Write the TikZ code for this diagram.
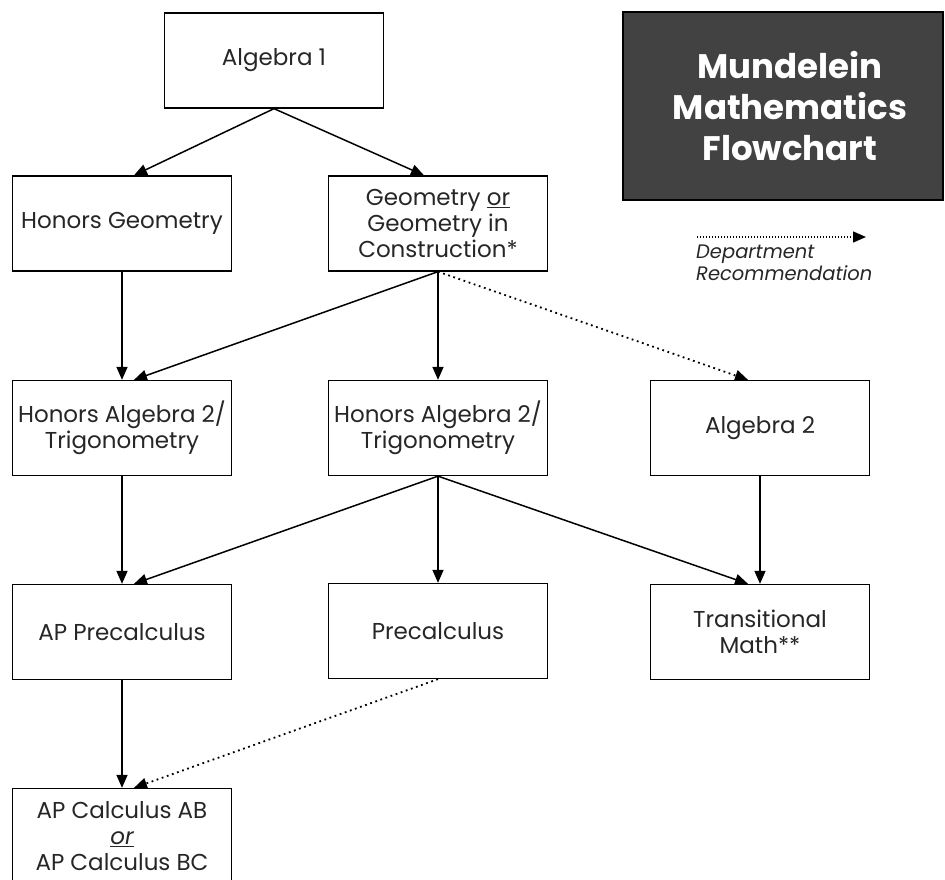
\documentclass[tikz,border=0pt]{standalone}
\usepackage{fontspec}
\setmainfont{Poppins}
\usetikzlibrary{arrows.meta,calc,positioning}
\definecolor{coursetext}{HTML}{262626}
\definecolor{titlefill}{HTML}{424242}

\begin{document}
\begin{tikzpicture}[x=1pt,y=-1pt,
  course/.style={rectangle,draw,line width=1.3pt,minimum width=219pt,minimum height=95pt,
    align=center,text=coursetext,inner sep=2pt,font=\fontsize{23}{26}\selectfont},
  arr/.style={line width=1.5pt,-{Triangle[length=13pt,width=11pt]}},
  rec/.style={arr,line width=1.8pt,dash pattern=on 1.8pt off 3.6pt}]
\useasboundingbox (0,0) rectangle (945,880);

\node[course] (alg1) at (274,60.5) {Algebra 1};
\node[course] (hgeo) at (122,223.5) {Honors Geometry};
\node[course] (geo) at (438,223.5) {Geometry \underline{or}\\Geometry in\\Construction*};
\node[course] (hatl) at (122,428) {Honors Algebra 2/\\Trigonometry};
\node[course] (hatm) at (438,428) {Honors Algebra 2/\\Trigonometry};
\node[course] (alg2) at (760,428) {Algebra 2};
\node[course] (appre) at (122,632) {AP Precalculus};
\node[course] (pre) at (438,631) {Precalculus};
\node[course] (trans) at (760,632) {Transitional\\Math**};
\node[course] (apcalc) at (122,836) {AP Calculus AB\\\textit{\underline{or}}\\AP Calculus BC};

% title and legend
\node[rectangle,draw,line width=1.3pt,fill=titlefill,minimum width=320pt,minimum height=188pt]
  (title) at (783,106) {};
\node[text=white,align=center,font=\bfseries\fontsize{34}{41}\selectfont] (titletext)
  at ($(title.center)+(7,0)$) {Mundelein\\Mathematics\\Flowchart};
\coordinate (lgA) at (697,237);
\coordinate (lgB) at (866,237);
\draw[rec,line width=1.4pt,dash pattern=on 1.4pt off 1.6pt] (lgA) -- (lgB);
\node[anchor=north west,inner sep=0,align=left,text=coursetext,
  font=\itshape\fontsize{19.5}{22}\selectfont] (lgtext) at (696,245) {Department\\Recommendation};

\draw[arr] (alg1.south) -- ($(hgeo.north)+(12,0)$);
\draw[arr] (alg1.south) -- ($(geo.north)+(-14,0)$);
\draw[arr] (hgeo) -- (hatl);
\draw[arr] (geo.south) -- ($(hatl.north)+(12,0)$);
\draw[arr] (geo) -- (hatm);
\draw[rec] (geo.south) -- ($(alg2.north)+(-12,0)$);
\draw[arr] (hatl) -- (appre);
\draw[arr] (hatm.south) -- ($(appre.north)+(12,0)$);
\draw[arr] (hatm) -- (pre);
\draw[arr] (hatm.south) -- ($(trans.north)+(-12,0)$);
\draw[arr] (alg2) -- (trans);
\draw[arr] (appre) -- (apcalc);
\draw[rec] (pre.south) -- ($(apcalc.north)+(12,0)$);
\end{tikzpicture}
\end{document}
